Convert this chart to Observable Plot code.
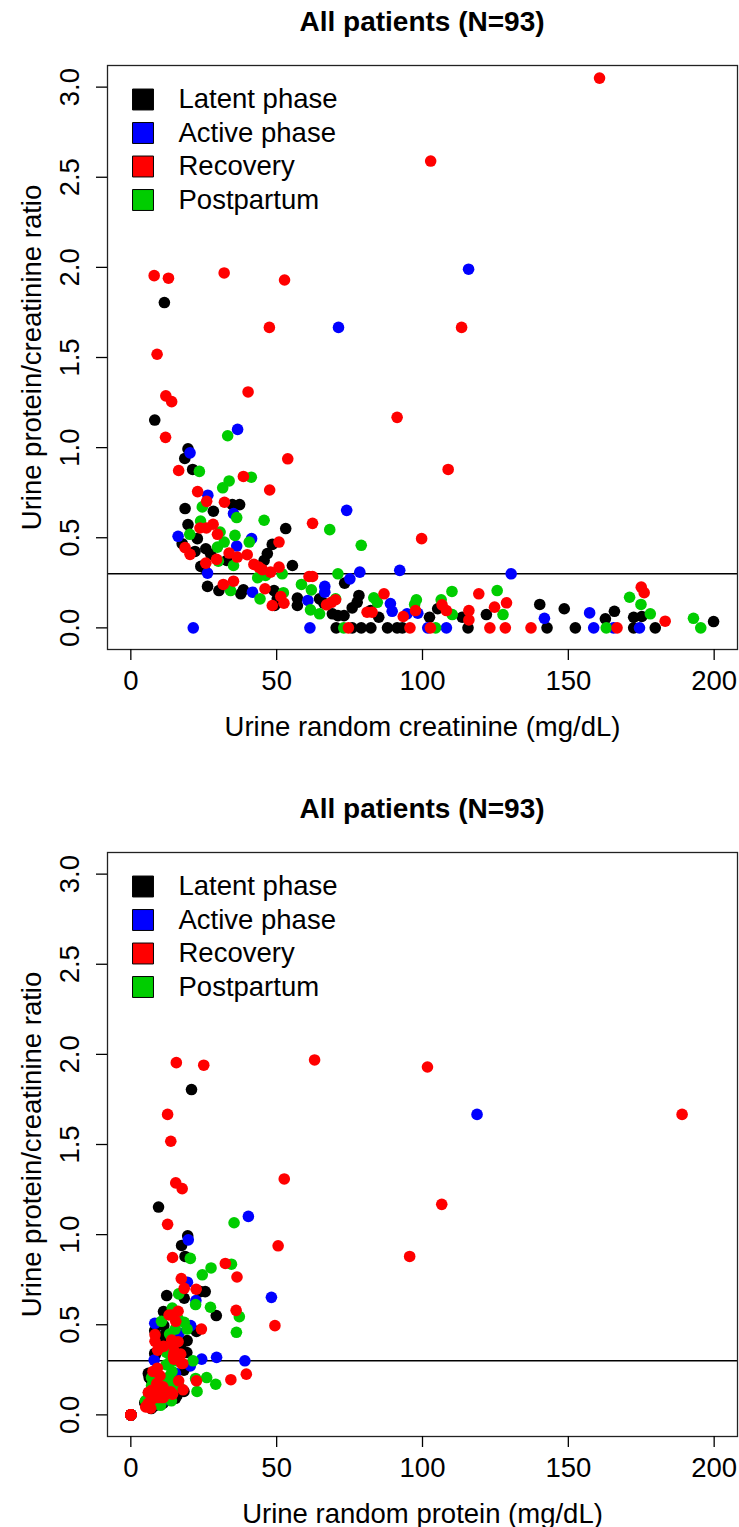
<!DOCTYPE html>
<html>
<head>
<meta charset="utf-8">
<script src="https://cdn.jsdelivr.net/npm/d3@7"></script>
<script src="https://cdn.jsdelivr.net/npm/@observablehq/plot@0.6"></script>
<style>
  html, body { margin: 0; padding: 0; background: #fff; }
  body { width: 739px; font-family: "Liberation Sans", Arial, sans-serif; }
  .title { height: 44px; line-height: 44px; font-size: 28px; font-weight: bold; text-align: center;
           padding-left: 107px; padding-right: 2px; box-sizing: border-box; width: 739px; color: #000; }
  svg { display: block; overflow: visible; }
</style>
</head>
<body>
<div id="chart"></div>
<script>
const titleText = "All patients (N=93)";
const yLabel = "Urine protein/creatinine ratio";
const xLabelTop = "Urine random creatinine (mg/dL)";
const xLabelBottom = "Urine random protein (mg/dL)";
const phases = ["Latent phase", "Active phase", "Recovery", "Postpartum"];
const phaseColors = ["#000000", "#0000FF", "#FF0000", "#00CD00"];
const xTicks = [0, 50, 100, 150, 200];
const yTicks = [0, 0.5, 1.0, 1.5, 2.0, 2.5, 3.0];
const cutoff = [0.3];

// Latent phase
const latentCreatinine = [11.5, 8.2, 19.6, 18.5, 21.2, 28.3, 18.6, 34.8, 37.3, 19.6, 53.1, 22.8, 17.6, 22.0, 25.7, 48.5, 46.8, 45.7, 24.0, 25.1, 32.9, 55.4, 73.3, 26.3, 30.2, 37.7, 38.6, 49.1, 50.2, 49.3, 57.1, 57.1, 64.7, 66.2, 69.1, 71.0, 73.1, 75.9, 77.6, 78.2, 82.2, 85.0, 27.4, 102.4, 105.2, 113.6, 121.9, 140.2, 148.6, 165.8, 162.7, 172.4, 175.2, 199.8, 70.4, 75.9, 79.0, 82.3, 88.0, 91.3, 93.1, 115.6, 142.7, 152.4, 172.4, 179.8];
const latentRatio = [1.805, 1.153, 0.993, 0.94, 0.879, 0.647, 0.662, 0.684, 0.684, 0.573, 0.551, 0.495, 0.467, 0.424, 0.439, 0.463, 0.412, 0.374, 0.341, 0.334, 0.374, 0.346, 0.248, 0.23, 0.207, 0.189, 0.211, 0.207, 0.161, 0.124, 0.165, 0.124, 0.161, 0.137, 0.078, 0.068, 0.068, 0.111, 0.142, 0.18, 0.096, 0.059, 0.408, 0.059, 0.106, 0.059, 0.074, 0.13, 0.106, 0.092, 0.05, 0.059, 0.063, 0.035, 0, 0, 0, 0, 0, 0, 0, 0, 0, 0, 0, 0];
const latentProtein = [20.8, 9.5, 19.5, 17.4, 18.6, 18.3, 12.3, 23.8, 25.5, 11.2, 29.3, 11.3, 8.2, 9.3, 11.3, 22.5, 19.3, 17.1, 8.2, 8.4, 12.3, 19.2, 18.2, 6.0, 6.3, 7.1, 8.1, 10.2, 8.1, 6.1, 9.4, 7.1, 10.4, 9.1, 5.4, 4.8, 5.0, 8.4, 11.0, 14.1, 7.9, 5.0, 11.2, 6.0, 11.2, 6.7, 9.0, 18.2, 15.8, 15.3, 8.1, 10.2, 11.0, 7.0, 0, 0, 0, 0, 0, 0, 0, 0, 0, 0, 0, 0];

// Active phase
const activeCreatinine = [115.8, 71.2, 36.6, 20.3, 26.4, 35.2, 74.0, 16.2, 41.4, 36.3, 26.3, 75.1, 78.5, 41.7, 60.7, 66.5, 66.5, 89.0, 89.6, 94.7, 98.4, 92.2, 130.4, 157.3, 141.8, 21.4, 61.4, 101.8, 108.2, 158.7, 165.5, 174.4];
const activeRatio = [1.99, 1.667, 1.101, 0.971, 0.736, 0.634, 0.652, 0.508, 0.495, 0.454, 0.304, 0.272, 0.309, 0.198, 0.152, 0.23, 0.198, 0.135, 0.092, 0.078, 0.081, 0.319, 0.30, 0.083, 0.053, 0, 0, 0, 0, 0, 0, 0];
const activeProtein = [230.4, 118.7, 40.3, 19.7, 19.4, 22.3, 48.2, 8.2, 20.5, 16.5, 8.0, 20.4, 24.3, 8.3, 9.2, 15.3, 13.2, 12.0, 8.2, 7.4, 8.0, 29.4, 39.1, 13.1, 7.5, 0, 0, 0, 0, 0, 0, 0];

// Recovery
const recoveryCreatinine = [160.7, 102.8, 113.4, 8.0, 12.9, 32.0, 52.7, 47.5, 9.0, 12.0, 14.0, 40.2, 11.9, 53.8, 16.4, 38.6, 47.6, 22.9, 26.0, 32.1, 62.3, 23.7, 25.9, 28.2, 29.7, 18.6, 20.3, 50.8, 33.7, 36.5, 39.9, 29.4, 25.7, 42.2, 45.1, 47.9, 50.8, 61.1, 62.3, 31.7, 35.2, 46.0, 51.4, 52.5, 48.5, 67.1, 68.8, 70.2, 81.0, 82.7, 86.8, 91.3, 108.8, 99.7, 119.3, 93.4, 97.6, 106.7, 108.2, 115.9, 115.9, 124.7, 128.8, 175.0, 176.0, 183.2, 43.9, 74.6, 95.7, 102.7, 123.1, 128.4, 137.2, 166.7];
const recoveryRatio = [3.05, 2.59, 1.667, 1.954, 1.94, 1.969, 1.93, 1.667, 1.518, 1.287, 1.255, 1.309, 1.057, 0.938, 0.873, 0.84, 0.765, 0.756, 0.702, 0.697, 0.58, 0.554, 0.554, 0.575, 0.519, 0.445, 0.408, 0.476, 0.415, 0.393, 0.406, 0.38, 0.359, 0.352, 0.323, 0.309, 0.337, 0.285, 0.285, 0.241, 0.259, 0.217, 0.174, 0.137, 0.124, 0.128, 0.142, 0.156, 0.087, 0.087, 0.189, 1.168, 0.879, 0.495, 0.189, 0.063, 0.096, 0.128, 0.096, 0.096, 0.044, 0.115, 0.139, 0.226, 0.195, 0.037, 0.337, 0, 0, 0, 0, 0, 0, 0];
const recoveryProtein = [490.1, 266.3, 189.0, 15.6, 25.0, 63.0, 101.7, 12.6, 13.7, 15.4, 17.6, 52.6, 12.6, 50.5, 14.3, 32.4, 36.4, 17.3, 18.3, 22.4, 36.1, 13.1, 14.3, 16.2, 15.4, 8.3, 8.3, 24.2, 14.0, 14.3, 16.2, 11.2, 9.2, 14.9, 14.6, 14.8, 17.1, 17.4, 17.8, 7.6, 9.1, 10.0, 8.9, 7.2, 6.0, 8.6, 9.8, 11.0, 7.0, 7.2, 16.4, 106.6, 95.6, 49.4, 22.5, 5.9, 9.4, 13.7, 10.4, 11.1, 5.1, 14.3, 17.9, 39.6, 34.3, 6.8, 14.8, 0, 0, 0, 0, 0, 0, 0];

// Postpartum
const postpartumCreatinine = [33.2, 23.5, 41.3, 33.7, 31.5, 24.5, 36.3, 45.7, 68.2, 79.0, 23.9, 20.2, 30.6, 35.7, 32.0, 40.6, 29.7, 30.0, 35.2, 71.0, 43.5, 34.2, 44.3, 52.3, 58.5, 61.9, 61.6, 64.7, 70.2, 83.3, 84.5, 97.9, 97.3, 106.4, 110.1, 110.2, 125.6, 127.6, 171.0, 174.9, 178.1, 192.9, 46.2, 51.9, 73.0, 104.5, 163.0, 195.4];
const postpartumRatio = [1.066, 0.868, 0.836, 0.815, 0.777, 0.671, 0.612, 0.597, 0.545, 0.458, 0.593, 0.519, 0.532, 0.513, 0.476, 0.476, 0.448, 0.37, 0.346, 0.30, 0.278, 0.207, 0.161, 0.195, 0.241, 0.211, 0.1, 0.078, 0.161, 0.167, 0.142, 0.156, 0.13, 0.156, 0.202, 0.074, 0.207, 0.074, 0.17, 0.13, 0.078, 0.053, 0.291, 0.30, 0, 0, 0, 0];
const postpartumProtein = [35.4, 20.4, 34.5, 27.5, 24.5, 16.4, 22.2, 27.3, 37.2, 36.2, 14.2, 10.5, 16.3, 18.3, 15.2, 19.3, 13.3, 11.1, 12.2, 21.3, 12.1, 7.1, 7.1, 10.2, 14.1, 13.1, 6.2, 5.0, 11.3, 13.9, 12.0, 15.3, 12.6, 16.6, 22.2, 8.2, 26.0, 9.4, 29.1, 22.7, 13.9, 10.2, 13.4, 15.6, 0, 0, 0, 0];

// Build a table (drawing order: latent, active, postpartum, recovery)
const groups = [
  {phase: phases[0], cr: latentCreatinine, ratio: latentRatio, prot: latentProtein},
  {phase: phases[1], cr: activeCreatinine, ratio: activeRatio, prot: activeProtein},
  {phase: phases[3], cr: postpartumCreatinine, ratio: postpartumRatio, prot: postpartumProtein},
  {phase: phases[2], cr: recoveryCreatinine, ratio: recoveryRatio, prot: recoveryProtein}
];
const rows = groups.flatMap(g => g.cr.map((c, i) => ({phase: g.phase, creatinine: c, ratio: g.ratio[i], protein: g.prot[i]})));

const font = "'Liberation Sans', Arial, sans-serif";
const fs = 27.5;

function panel(xField, xLabel, height, marginBottom) {
  const legendMarks = phases.flatMap((p, i) => [
    Plot.dot([p], {frameAnchor: "top-left", dx: 35.5, dy: 34 + i * 33.5, symbol: "square", r: 11.8,
                   fill: phaseColors[i], stroke: "#000", strokeWidth: 1}),
    Plot.text([p], {frameAnchor: "top-left", dx: 71, dy: 34 + i * 33.5, text: d => d, textAnchor: "start",
                    lineAnchor: "middle", fontSize: fs, fill: "#000"})
  ]);
  return Plot.plot({
    width: 739,
    height,
    marginLeft: 107,
    marginRight: 2,
    marginTop: 21,
    marginBottom,
    style: {fontFamily: font, background: "#fff", color: "#000"},
    x: {domain: [-8, 208], label: null},
    y: {domain: [-0.12, 3.12], label: null},
    color: {domain: phases, range: phaseColors},
    marks: [
      Plot.ruleY(cutoff, {stroke: "#000", strokeWidth: 1.5}),
      Plot.dot(rows, {x: xField, y: "ratio", r: 5.8, fill: d => d.phase, stroke: null, clip: true}),
      Plot.frame({stroke: "#222", strokeWidth: 1.3}),
      Plot.axisX(xTicks, {tickSize: 11, tickPadding: 10, fontSize: fs, tickFormat: d => String(d), label: null, strokeWidth: 1.3}),
      Plot.axisY(yTicks, {tickSize: 11, tickFormat: () => "", label: null, strokeWidth: 1.3}),
      Plot.text(yTicks, {y: d => d, text: d => d.toFixed(1), frameAnchor: "left", dx: -37, rotate: -90,
                         textAnchor: "middle", lineAnchor: "middle", fontSize: fs, fill: "#000"}),
      Plot.text([yLabel], {frameAnchor: "left", dx: -75, rotate: -90, text: d => d, textAnchor: "middle",
                           lineAnchor: "middle", fontSize: fs, fill: "#000"}),
      Plot.text([xLabel], {frameAnchor: "bottom", dy: 78, text: d => d, textAnchor: "middle",
                           lineAnchor: "middle", fontSize: fs, fill: "#000"}),
      ...legendMarks
    ]
  });
}

const root = document.getElementById("chart");
function addTitle() {
  const t = document.createElement("div");
  t.className = "title";
  t.textContent = titleText;
  root.appendChild(t);
}
addTitle();
root.appendChild(panel("creatinine", xLabelTop, 743, 138));
addTitle();
root.appendChild(panel("protein", xLabelBottom, 698, 93));
</script>
</body>
</html>
